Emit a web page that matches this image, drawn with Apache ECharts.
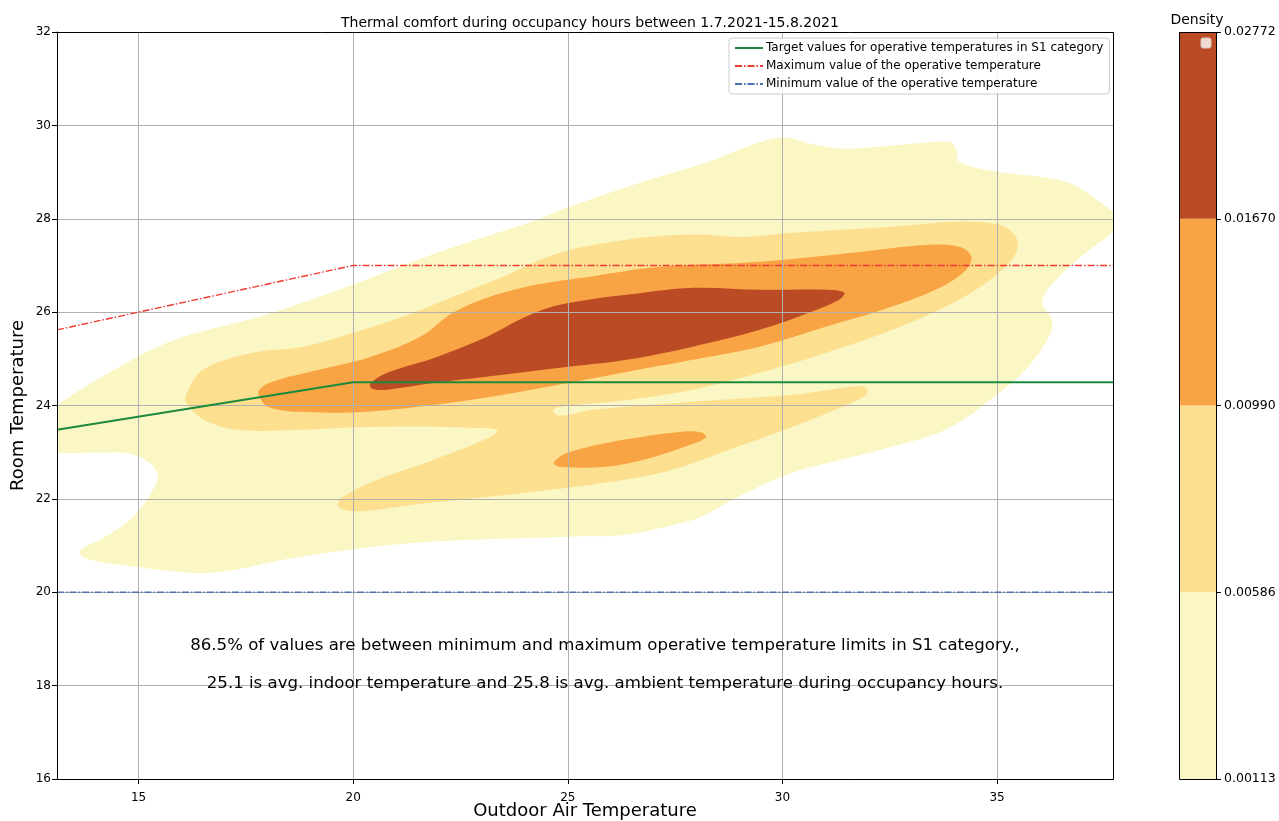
<!DOCTYPE html>
<html>
<head>
<meta charset="utf-8">
<script src="https://cdn.jsdelivr.net/npm/echarts@6/dist/echarts.min.js"></script>
<style>
  html, body { margin: 0; padding: 0; background: #fff; }
  #chart { width: 1279px; height: 821px; }
</style>
</head>
<body>
<div id="chart"></div>
<script>
// axis range of the outdoor temperature
var xRange = [13.1, 37.7];
var yRange = [16, 32];

// density bands, from outer to inner
var bandColors = ["#fbf7c4", "#fcdf8f", "#f9a444", "#bb4b25"];
var densityTicks = ["0.00113", "0.00586", "0.00990", "0.01670", "0.02772"];

// contour outlines [outdoor, room]
var band1 = [
  [12.44, 23.33], [12.65, 23.70], [13.12, 24.02], [14.12, 24.60], [15.74, 25.37], [18.07, 25.97],
  [20.00, 26.59], [21.95, 27.27], [24.28, 27.98], [24.98, 28.24], [26.91, 28.84], [28.21, 29.20],
  [29.23, 29.56], [30.00, 29.74], [30.77, 29.58], [31.42, 29.50], [32.72, 29.58], [33.88, 29.65],
  [34.05, 29.48], [34.12, 29.22], [34.98, 29.01], [36.60, 28.79], [37.37, 28.37], [37.84, 27.98],
  [37.67, 27.70], [37.07, 27.27], [36.37, 26.69], [36.05, 26.22], [36.28, 25.84], [36.21, 25.47],
  [35.67, 24.77], [35.05, 24.27], [33.88, 23.52], [32.72, 23.16], [31.56, 22.88], [30.23, 22.56],
  [29.07, 22.09], [28.07, 21.60], [27.67, 21.49], [26.33, 21.23], [25.00, 21.19], [21.44, 21.06],
  [18.77, 20.76], [16.67, 20.42], [14.88, 20.55], [13.72, 20.74], [13.65, 20.91], [14.12, 21.13],
  [14.88, 21.62], [15.44, 22.41], [15.35, 22.69], [14.88, 22.95], [14.12, 22.99], [13.19, 22.99],
  [12.56, 23.12]
];
var band2 = [
  [16.09, 24.19], [16.51, 24.77], [17.67, 25.13], [18.84, 25.26], [20.00, 25.56], [21.16, 25.90],
  [22.33, 26.33], [23.49, 26.76], [24.81, 27.27], [26.37, 27.55], [27.91, 27.66], [29.07, 27.61],
  [30.23, 27.70], [32.56, 27.83], [34.12, 27.94], [35.05, 27.87], [35.44, 27.61], [35.44, 27.27],
  [35.05, 26.85], [34.12, 26.27], [32.56, 25.62], [31.02, 25.13], [29.47, 24.70], [27.91, 24.34],
  [26.37, 24.12], [24.81, 23.97], [24.65, 23.89], [24.81, 23.78], [25.58, 23.91], [27.91, 24.08],
  [30.23, 24.23], [31.79, 24.42], [31.98, 24.34], [31.93, 24.21], [31.23, 23.91], [29.88, 23.42],
  [28.56, 22.99], [27.67, 22.69], [26.77, 22.48], [25.88, 22.35], [25.00, 22.24], [23.21, 22.05],
  [21.44, 21.88], [20.09, 21.73], [19.65, 21.83], [19.74, 22.03], [20.56, 22.41], [21.88, 22.84],
  [23.21, 23.33], [23.35, 23.48], [22.77, 23.52], [21.44, 23.55], [19.65, 23.52], [18.84, 23.48],
  [17.30, 23.48], [16.51, 23.70], [16.14, 24.02]
];
var band3 = [
  [17.79, 24.27], [18.07, 24.49], [19.23, 24.77], [20.40, 25.04], [21.56, 25.47], [22.33, 25.99],
  [23.12, 26.31], [24.28, 26.59], [25.51, 26.76], [27.14, 26.97], [29.47, 27.08], [31.79, 27.29],
  [33.35, 27.44], [34.12, 27.40], [34.40, 27.19], [34.28, 26.91], [33.72, 26.55], [32.56, 26.12],
  [31.02, 25.69], [29.47, 25.26], [27.91, 24.98], [26.37, 24.72], [24.81, 24.45], [23.49, 24.23],
  [21.95, 24.02], [20.40, 23.87], [19.23, 23.85], [18.07, 23.95]
];
var band3b = [
  [24.67, 22.78], [25.00, 22.99], [26.33, 23.27], [27.67, 23.44], [28.12, 23.42], [28.21, 23.31],
  [27.67, 23.10], [26.77, 22.84], [25.88, 22.69], [24.81, 22.69]
];
var band4 = [
  [20.40, 24.47], [20.79, 24.70], [21.95, 25.04], [23.12, 25.47], [23.88, 25.84], [24.65, 26.12],
  [25.51, 26.27], [26.37, 26.37], [27.91, 26.52], [29.47, 26.48], [31.02, 26.48], [31.44, 26.42],
  [31.33, 26.27], [30.63, 25.99], [29.47, 25.62], [27.91, 25.26], [26.37, 24.98], [24.81, 24.81],
  [23.49, 24.66], [21.95, 24.49], [20.79, 24.34], [20.44, 24.36]
];

// comfort limits
var targetLine = [[13.1, 23.48], [20, 24.5], [37.7, 24.5]];
var maxLine = [[13.1, 25.62], [20, 27], [37.7, 27]];
var minLine = [[13.1, 20], [37.7, 20]];

var noteLines = [
  "86.5% of values are between minimum and maximum operative temperature limits in S1 category.,",
  "25.1 is avg. indoor temperature and 25.8 is avg. ambient temperature during occupancy hours."
];

var font = "DejaVu Sans";

function contourSeries(polys, color) {
  return {
    type: "custom",
    xAxisIndex: 0,
    yAxisIndex: 0,
    clip: true,
    silent: true,
    z: 2,
    data: polys.map(function (p, i) { return [p[0][0], p[0][1], i]; }),
    renderItem: function (params, api) {
      var pts = polys[params.dataIndex].map(function (p) { return api.coord(p); });
      return {
        type: "polygon",
        shape: { points: pts, smooth: 0.35 },
        style: { fill: color }
      };
    }
  };
}

function limitSeries(name, data, color, width, dash) {
  return {
    name: name,
    type: "line",
    xAxisIndex: 0,
    yAxisIndex: 0,
    data: data,
    symbol: "none",
    z: 5,
    lineStyle: { color: color, width: width, type: dash },
    itemStyle: { color: color }
  };
}

var chart = echarts.init(document.getElementById("chart"));
var option = {
  animation: false,
  textStyle: { fontFamily: font },
  title: {
    text: "Thermal comfort during occupancy hours between 1.7.2021-15.8.2021",
    left: 585,
    top: 11,
    textAlign: "center",
    textStyle: { fontSize: 14, fontWeight: "normal", color: "#000", fontFamily: font }
  },
  legend: {
    orient: "vertical",
    left: 729,
    top: 38,
    padding: [4, 6, 4, 5],
    itemGap: 6,
    itemWidth: 28,
    itemHeight: 12,
    borderColor: "#cccccc",
    borderWidth: 1,
    borderRadius: 3,
    backgroundColor: "rgba(255,255,255,0.85)",
    itemStyle: { opacity: 0 },
    textStyle: { fontSize: 12, color: "#000", fontFamily: font, padding: [0, 0, 0, -2] },
    data: [
      "Target values for operative temperatures in S1 category",
      "Maximum value of the operative temperature",
      "Minimum value of the operative temperature"
    ]
  },
  grid: [
    { left: 57, top: 32, width: 1056, height: 747, show: false, outerBoundsMode: "none", containLabel: false },
    { left: 1179, top: 32, width: 37, height: 747, show: false, outerBoundsMode: "none", containLabel: false }
  ],
  xAxis: [
    {
      type: "value",
      gridIndex: 0,
      min: xRange[0],
      max: xRange[1],
      z: 3,
      name: "Outdoor Air Temperature",
      nameLocation: "middle",
      nameGap: 23,
      nameMoveOverlap: false,
      nameTextStyle: { fontSize: 18, color: "#000", fontFamily: font },
      axisLine: { show: true, onZero: false, lineStyle: { color: "#000", width: 1 } },
      axisTick: { show: true, length: 5, lineStyle: { color: "#000" } },
      axisLabel: { fontSize: 12, color: "#000", margin: 13, showMinLabel: false, showMaxLabel: false },
      splitLine: { show: true, lineStyle: { color: "#b0b0b0", width: 1 } }
    },
    {
      type: "category",
      gridIndex: 1,
      data: ["density"],
      show: false
    }
  ],
  yAxis: [
    {
      type: "value",
      gridIndex: 0,
      min: yRange[0],
      max: yRange[1],
      interval: 2,
      z: 3,
      name: "Room Temperature",
      nameLocation: "middle",
      nameGap: 30,
      nameMoveOverlap: false,
      nameTextStyle: { fontSize: 18, color: "#000", fontFamily: font },
      axisLine: { show: true, onZero: false, lineStyle: { color: "#000", width: 1 } },
      axisTick: { show: true, length: 5, lineStyle: { color: "#000" } },
      axisLabel: { fontSize: 12, color: "#000", margin: 6 },
      splitLine: { show: true, lineStyle: { color: "#b0b0b0", width: 1 } }
    },
    {
      type: "value",
      gridIndex: 1,
      position: "right",
      min: 0,
      max: 4,
      interval: 1,
      axisLine: { show: false },
      axisTick: { show: true, length: 5, lineStyle: { color: "#000" } },
      axisLabel: {
        fontSize: 12.5,
        color: "#000",
        margin: 8,
        formatter: function (v) { return densityTicks[Math.round(v)]; }
      },
      splitLine: { show: false }
    }
  ],
  graphic: [
    {
      type: "rect",
      z: 100,
      silent: true,
      shape: { x: 57.5, y: 32.5, width: 1056, height: 747 },
      style: { fill: null, stroke: "#000", lineWidth: 1 }
    },
    {
      type: "rect",
      z: 100,
      silent: true,
      shape: { x: 1179.5, y: 32.5, width: 37, height: 747 },
      style: { fill: null, stroke: "#000", lineWidth: 1 }
    },
    {
      type: "rect",
      z: 101,
      silent: true,
      shape: { x: 1201, y: 38, width: 10, height: 10, r: 2 },
      style: { fill: "rgba(255,255,255,0.8)", stroke: "#d8c8c0", lineWidth: 1 }
    },
    {
      type: "text",
      z: 100,
      x: 1197,
      y: 20,
      style: { text: "Density", fontSize: 14, fontFamily: font, fill: "#000", align: "center", verticalAlign: "middle" }
    },
    {
      type: "text",
      z: 100,
      x: 605,
      y: 646,
      style: { text: noteLines[0], fontSize: 16.6, fontFamily: font, fill: "#000", align: "center", verticalAlign: "middle" }
    },
    {
      type: "text",
      z: 100,
      x: 605,
      y: 684,
      style: { text: noteLines[1], fontSize: 16.6, fontFamily: font, fill: "#000", align: "center", verticalAlign: "middle" }
    }
  ],
  series: [
    contourSeries([band1], bandColors[0]),
    contourSeries([band2], bandColors[1]),
    contourSeries([band3, band3b], bandColors[2]),
    contourSeries([band4], bandColors[3]),
    limitSeries("Target values for operative temperatures in S1 category", targetLine, "#1b8a3c", 2, "solid"),
    limitSeries("Maximum value of the operative temperature", maxLine, "#ee3a30", 1.4, [7, 2, 1.5, 2]),
    limitSeries("Minimum value of the operative temperature", minLine, "#4c72b0", 1.6, [7, 2, 1.5, 2])
  ]
};

// colour bar: one block per density band
bandColors.forEach(function (c) {
  option.series.push({
    type: "bar",
    xAxisIndex: 1,
    yAxisIndex: 1,
    stack: "cb",
    barWidth: "100%",
    silent: true,
    data: [1],
    itemStyle: { color: c }
  });
});

chart.setOption(option);
</script>
</body>
</html>
